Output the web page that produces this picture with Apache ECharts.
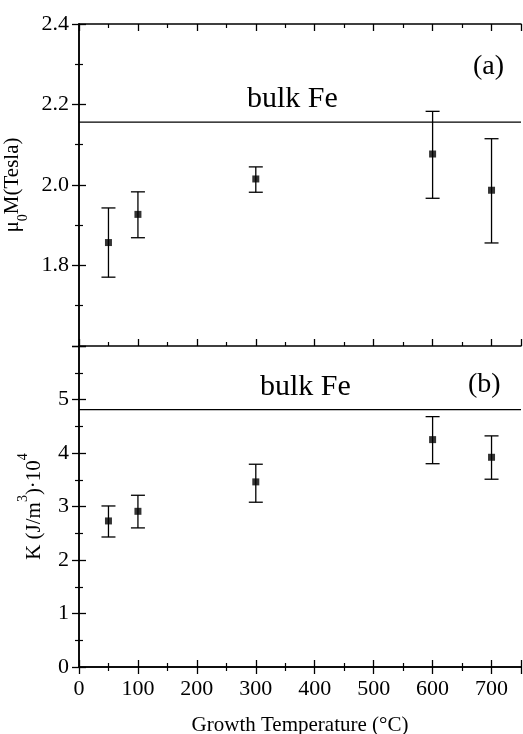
<!DOCTYPE html>
<html><head><meta charset="utf-8">
<script src="https://cdn.jsdelivr.net/npm/echarts@6/dist/echarts.min.js"></script>
<style>html,body{margin:0;padding:0;background:#fff}#c{width:523px;height:734px}</style>
</head><body><div id="c"></div>
<script>
// Growth temperatures (°C)
const temps = [50, 100, 300, 600, 700];
// Panel (a): mu0 M (Tesla)
const magValues = [1.857, 1.927, 2.015, 2.077, 1.987];
const magLow    = [1.771, 1.869, 1.982, 1.967, 1.856];
const magHigh   = [1.943, 1.983, 2.045, 2.183, 2.115];
const bulkMag = 2.156;
// Panel (b): K (J/m^3)·10^4
const kValues = [2.73, 2.91, 3.46, 4.25, 3.92];
const kLow    = [2.43, 2.60, 3.08, 3.80, 3.51];
const kHigh   = [3.01, 3.21, 3.79, 4.68, 4.32];
const bulkK = 4.81;

const FONT = '"Liberation Serif","Times New Roman",serif';
const chart = echarts.init(document.getElementById('c'));

function errRender(params, api) {
  const x = api.value(0), lo = api.value(1), hi = api.value(2);
  const pLo = api.coord([x, lo]), pHi = api.coord([x, hi]);
  const hw = 7;
  const style = { stroke: '#000', lineWidth: 1.3 };
  return { type: 'group', children: [
    { type: 'line', shape: { x1: pLo[0], y1: pLo[1], x2: pHi[0], y2: pHi[1] }, style },
    { type: 'line', shape: { x1: pLo[0] - hw, y1: pLo[1], x2: pLo[0] + hw, y2: pLo[1] }, style },
    { type: 'line', shape: { x1: pHi[0] - hw, y1: pHi[1], x2: pHi[0] + hw, y2: pHi[1] }, style }
  ]};
}

const axisLine = { show: true, lineStyle: { color: '#000', width: 1.5 } };
const tick = { show: true, inside: true, length: 7, lineStyle: { color: '#000', width: 1.3 } };
const minor = { show: true, splitNumber: 2, length: 4, lineStyle: { color: '#000', width: 1.2 } };

function xAxis(grid, pos, labels, extra) {
  return Object.assign({
    type: 'value', gridIndex: grid, position: pos, min: 0, max: 750, interval: 100,
    axisLine, axisTick: tick, minorTick: minor, splitLine: { show: false },
    axisLabel: labels ? { show: true, fontFamily: FONT, fontSize: 22, color: '#000', margin: 11, showMaxLabel: false,
      formatter: v => (v % 100 === 0 ? String(v) : '') } : { show: false }
  }, extra || {});
}
function yAxis(grid, pos, min, max, interval, labels, extra) {
  return Object.assign({
    type: 'value', gridIndex: grid, position: pos, min, max, interval,
    axisLine, axisTick: tick, minorTick: minor, splitLine: { show: false },
    axisLabel: labels || { show: false }
  }, extra || {});
}

const option = {
  backgroundColor: '#fff',
  animation: false,
  grid: [
    { left: 79, top: 24, right: 2, height: 322, show: false, outerBoundsMode: 'none', containLabel: false },
    { left: 79, top: 346, right: 2, height: 321, show: false, outerBoundsMode: 'none', containLabel: false }
  ],
  xAxis: [
    xAxis(0, 'bottom', false),
    xAxis(0, 'top', false),
    xAxis(1, 'bottom', true, { name: 'Growth Temperature (°C)', nameLocation: 'middle', nameGap: 48,
      nameTextStyle: { fontFamily: FONT, fontSize: 21, color: '#000' } }),
    xAxis(1, 'top', false)
  ],
  yAxis: [
    yAxis(0, 'left', 1.6, 2.4, 0.2, { show: true, fontFamily: FONT, fontSize: 22, color: '#000', margin: 10,
      showMinLabel: false, formatter: v => v.toFixed(1) }, {
      name: 'μ{sub|0}M(Tesla)', nameLocation: 'middle', nameRotate: 90, nameGap: 33,
      nameTextStyle: { fontFamily: FONT, fontSize: 21, color: '#000',
        rich: { sub: { fontFamily: FONT, fontSize: 14, color: '#000', verticalAlign: 'bottom', padding: [0, 0, -8, 0] } } } }),
    yAxis(0, 'right', 1.6, 2.4, 0.2, null),
    yAxis(1, 'left', 0, 6, 1, { show: true, fontFamily: FONT, fontSize: 22, color: '#000', margin: 10,
      showMaxLabel: false, formatter: v => String(v) }, {
      name: 'K (J/m{sup|3})·10{sup|4}', nameLocation: 'middle', nameRotate: 90, nameGap: 34,
      nameTextStyle: { fontFamily: FONT, fontSize: 21, color: '#000',
        rich: { sup: { fontFamily: FONT, fontSize: 14, color: '#000', verticalAlign: 'top', padding: [-8, 0, 0, 0] } } } }),
    yAxis(1, 'right', 0, 6, 1, null)
  ],
  series: [
    { type: 'custom', xAxisIndex: 0, yAxisIndex: 0, renderItem: errRender, encode: { x: 0, y: [1, 2] },
      data: temps.map((t, i) => [t, magLow[i], magHigh[i]]), z: 2 },
    { type: 'scatter', xAxisIndex: 0, yAxisIndex: 0, symbol: 'rect', symbolSize: 7,
      itemStyle: { color: '#000' }, data: temps.map((t, i) => [t, magValues[i]]), z: 3 },
    { type: 'line', xAxisIndex: 0, yAxisIndex: 0, symbol: 'none', lineStyle: { color: '#000', width: 1.3 },
      data: [[0, bulkMag], [750, bulkMag]] },
    { type: 'custom', xAxisIndex: 2, yAxisIndex: 2, renderItem: errRender, encode: { x: 0, y: [1, 2] },
      data: temps.map((t, i) => [t, kLow[i], kHigh[i]]), z: 2 },
    { type: 'scatter', xAxisIndex: 2, yAxisIndex: 2, symbol: 'rect', symbolSize: 7,
      itemStyle: { color: '#000' }, data: temps.map((t, i) => [t, kValues[i]]), z: 3 },
    { type: 'line', xAxisIndex: 2, yAxisIndex: 2, symbol: 'none', lineStyle: { color: '#000', width: 1.3 },
      data: [[0, bulkK], [750, bulkK]] }
  ],
  graphic: [
    { type: 'text', left: 247, top: 84, style: { text: 'bulk Fe', font: '30px ' + FONT, fill: '#000' } },
    { type: 'text', left: 473, top: 53, style: { text: '(a)', font: '28px ' + FONT, fill: '#000' } },
    { type: 'text', left: 260, top: 372, style: { text: 'bulk Fe', font: '30px ' + FONT, fill: '#000' } },
    { type: 'text', left: 468, top: 371, style: { text: '(b)', font: '28px ' + FONT, fill: '#000' } }
  ]
};
chart.setOption(option);
</script>
</body></html>
